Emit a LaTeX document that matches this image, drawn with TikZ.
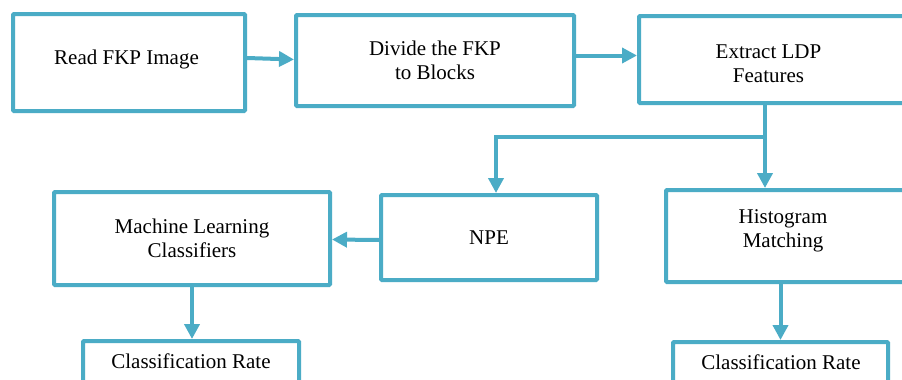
\documentclass[tikz,border=0pt]{standalone}
\usepackage{fontspec}
\setmainfont{Liberation Serif}
\usetikzlibrary{arrows.meta,calc}
\definecolor{acc}{HTML}{4BACC6}
\begin{document}
\begin{tikzpicture}[x=1pt,y=-1pt,
  box/.style={draw=acc, line width=4pt, rectangle, rounded corners=1pt, inner sep=0pt, align=center,
    font=\fontsize{21}{24}\selectfont},
  arr/.style={draw=acc, line width=4pt, -{Triangle[length=15pt,width=15pt]}},
  lbl/.style={align=center, font=\fontsize{21}{24}\selectfont}]
\clip (0,0) rectangle (902,380);
\fill[white] (0,0) rectangle (902,380);
% top row
\node[box, minimum width=232, minimum height=97,
  label={[lbl, xshift=-2.5pt, yshift=3pt]center:Read FKP Image}] (read) at (129,62.5) {};
\node[box, minimum width=278, minimum height=91] (divide) at (435,60.5) {Divide the FKP\\to Blocks};
\node[box, minimum width=272, minimum height=87,
  label={[lbl, xshift=-6.5pt, yshift=-4pt]center:Extract LDP\\Features}] (extract) at (775,59.5) {};
% middle row
\node[box, minimum width=276, minimum height=93] (ml) at (192,238.5) {Machine Learning\\Classifiers};
\node[box, minimum width=216, minimum height=85] (npe) at (489,237.5) {NPE};
\node[box, minimum width=244, minimum height=92,
  label={[lbl, xshift=-5pt, yshift=5pt]center:Histogram\\Matching}] (hist) at (788,236) {};
% bottom row
\node[box, minimum width=216, minimum height=60, anchor=north] (cr1) at (191,339) {};
\node[lbl] (cr1t) at (191,361) {Classification Rate};
\node[box, minimum width=215, minimum height=60, anchor=north] (cr2) at (780.5,340) {};
\node[lbl] (cr2t) at (781,362) {Classification Rate};
% connectors
\draw[arr] ([yshift=4.5pt]read.east) -- ([yshift=1pt]divide.west);
\draw[arr] ([yshift=5pt]divide.east) -- ([yshift=4pt]extract.west);
\coordinate (br) at (765,137);
\draw[arr] ([xshift=-10pt]extract.south) -- ([xshift=-23pt]hist.north);
\draw[arr] (br) -| ([xshift=7pt]npe.north);
\draw[arr] ([yshift=-2.5pt]npe.west) -- ([yshift=-1pt]ml.east);
\draw[arr] (ml.south) -- (ml.south |- cr1.north);
\draw[arr] (cr2.north |- hist.south) -- (cr2.north);
\end{tikzpicture}
\end{document}
